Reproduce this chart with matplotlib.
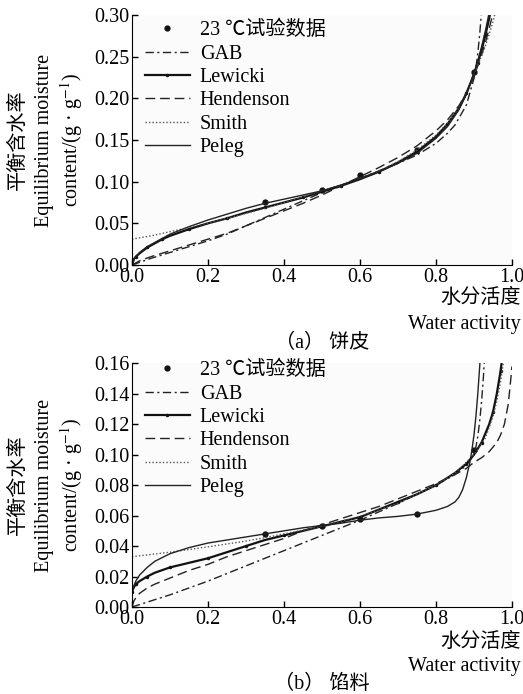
import matplotlib
matplotlib.use("Agg")
import matplotlib.pyplot as plt

plt.rcParams['font.family'] = ['Liberation Serif', 'Noto Sans CJK SC']
plt.rcParams['mathtext.fontset'] = 'stix'
plt.rcParams['axes.unicode_minus'] = False

# ---------------- (a) crust ----------------
a_exp_aw = [0.35, 0.50, 0.60, 0.75, 0.90]
a_exp_m = [0.075, 0.090, 0.108, 0.138, 0.232]

a_gab_aw = [0, 0.05, 0.1, 0.15, 0.2, 0.25, 0.3, 0.35, 0.4, 0.45, 0.5, 0.55, 0.6, 0.65, 0.7, 0.75,
            0.8, 0.83, 0.85, 0.88, 0.9, 0.905, 0.91, 0.915, 0.92]
a_gab_m = [0, 0.008, 0.015, 0.022, 0.029, 0.037, 0.047, 0.057, 0.067, 0.077, 0.087, 0.095, 0.104,
           0.113, 0.122, 0.132, 0.146, 0.158, 0.168, 0.192, 0.224, 0.237, 0.254, 0.277, 0.305]

a_lew_aw = [0, 0.005, 0.01, 0.02, 0.04, 0.06, 0.08, 0.1, 0.15, 0.2, 0.25, 0.3, 0.35, 0.4, 0.45, 0.5,
            0.55, 0.6, 0.65, 0.7, 0.75, 0.8, 0.83, 0.86, 0.88, 0.9, 0.91, 0.92, 0.93, 0.94, 0.95]
a_lew_m = [0, 0.007, 0.010, 0.014, 0.021, 0.026, 0.031, 0.035, 0.043, 0.050, 0.056, 0.063, 0.069,
           0.075, 0.081, 0.088, 0.095, 0.103, 0.112, 0.123, 0.136, 0.154, 0.169, 0.188, 0.206,
           0.229, 0.243, 0.258, 0.276, 0.296, 0.320]

a_hen_aw = [0, 0.02, 0.05, 0.1, 0.15, 0.2, 0.25, 0.3, 0.35, 0.4, 0.45, 0.5, 0.55, 0.6, 0.65, 0.7,
            0.75, 0.8, 0.83, 0.86, 0.88, 0.9, 0.91, 0.92, 0.93, 0.94, 0.95, 0.96]
a_hen_m = [0, 0.005, 0.010, 0.017, 0.024, 0.031, 0.038, 0.047, 0.056, 0.065, 0.074, 0.084, 0.095,
           0.106, 0.117, 0.129, 0.143, 0.161, 0.174, 0.191, 0.206, 0.227, 0.239, 0.252, 0.267,
           0.284, 0.302, 0.322]

a_smi_aw = [0, 0.05, 0.1, 0.15, 0.2, 0.25, 0.3, 0.35, 0.4, 0.45, 0.5, 0.55, 0.6, 0.65, 0.7, 0.75,
            0.8, 0.83, 0.86, 0.88, 0.9, 0.91, 0.92, 0.93, 0.94, 0.95, 0.96]
a_smi_m = [0.031, 0.035, 0.040, 0.045, 0.050, 0.056, 0.062, 0.068, 0.075, 0.082, 0.089, 0.096,
           0.104, 0.113, 0.124, 0.138, 0.156, 0.170, 0.188, 0.205, 0.229, 0.240, 0.251, 0.263,
           0.277, 0.292, 0.311]

a_pel_aw = [0, 0.005, 0.01, 0.02, 0.04, 0.06, 0.08, 0.1, 0.15, 0.2, 0.25, 0.3, 0.35, 0.4, 0.45, 0.5,
            0.55, 0.6, 0.65, 0.7, 0.75, 0.8, 0.83, 0.86, 0.88, 0.9, 0.91, 0.92, 0.93, 0.94]
a_pel_m = [0, 0.007, 0.010, 0.015, 0.022, 0.027, 0.032, 0.037, 0.046, 0.054, 0.061, 0.068, 0.074,
           0.079, 0.084, 0.089, 0.096, 0.104, 0.112, 0.122, 0.134, 0.152, 0.166, 0.186, 0.205,
           0.230, 0.245, 0.262, 0.281, 0.303]

# ---------------- (b) filling ----------------
b_exp_aw = [0.35, 0.50, 0.60, 0.75, 0.90]
b_exp_m = [0.048, 0.053, 0.058, 0.061, 0.103]

b_gab_aw = [0, 0.1, 0.2, 0.3, 0.35, 0.4, 0.5, 0.6, 0.7, 0.75, 0.8, 0.85, 0.88, 0.9, 0.905, 0.91,
            0.915, 0.92, 0.925, 0.928]
b_gab_m = [0, 0.008, 0.017, 0.027, 0.032, 0.037, 0.047, 0.057, 0.068, 0.074, 0.080, 0.087, 0.093,
           0.100, 0.105, 0.112, 0.122, 0.135, 0.152, 0.165]

b_lew_aw = [0, 0.005, 0.01, 0.02, 0.04, 0.06, 0.1, 0.15, 0.2, 0.25, 0.3, 0.35, 0.4, 0.45, 0.5, 0.55,
            0.6, 0.65, 0.7, 0.75, 0.8, 0.85, 0.88, 0.9, 0.92, 0.94, 0.95, 0.96, 0.97, 0.975]
b_lew_m = [0.010, 0.013, 0.015, 0.017, 0.020, 0.0225, 0.026, 0.029, 0.032, 0.036, 0.040, 0.044,
           0.047, 0.050, 0.053, 0.056, 0.059, 0.064, 0.069, 0.074, 0.080, 0.088, 0.094, 0.100,
           0.108, 0.120, 0.128, 0.140, 0.155, 0.165]

b_hen_aw = [0, 0.005, 0.01, 0.02, 0.04, 0.06, 0.1, 0.15, 0.2, 0.25, 0.3, 0.35, 0.4, 0.45, 0.5, 0.55,
            0.6, 0.65, 0.7, 0.75, 0.8, 0.85, 0.88, 0.9, 0.92, 0.94, 0.96, 0.97, 0.98, 0.99, 0.995, 1.0]
b_hen_m = [0, 0.004, 0.006, 0.009, 0.0125, 0.015, 0.019, 0.024, 0.028, 0.033, 0.037, 0.041, 0.045,
           0.050, 0.054, 0.058, 0.062, 0.066, 0.071, 0.076, 0.081, 0.087, 0.091, 0.095, 0.098,
           0.102, 0.108, 0.113, 0.120, 0.133, 0.145, 0.158]

b_smi_aw = [0, 0.1, 0.2, 0.3, 0.35, 0.4, 0.5, 0.6, 0.7, 0.8, 0.85, 0.9, 0.93, 0.95, 0.96, 0.97, 0.98]
b_smi_m = [0.033, 0.036, 0.0395, 0.0433, 0.0455, 0.048, 0.053, 0.0596, 0.068, 0.080, 0.088, 0.100,
           0.111, 0.125, 0.135, 0.148, 0.165]

b_pel_aw = [0, 0.005, 0.01, 0.02, 0.04, 0.06, 0.1, 0.15, 0.2, 0.25, 0.3, 0.35, 0.4, 0.45, 0.5, 0.55,
            0.6, 0.65, 0.7, 0.75, 0.8, 0.83, 0.85, 0.86, 0.87, 0.88, 0.89, 0.895, 0.9, 0.905, 0.91,
            0.915, 0.918]
b_pel_m = [0.010, 0.014, 0.017, 0.021, 0.026, 0.030, 0.035, 0.039, 0.042, 0.044, 0.046, 0.048,
           0.050, 0.052, 0.0535, 0.055, 0.057, 0.0585, 0.0595, 0.061, 0.0635, 0.066, 0.069, 0.072,
           0.077, 0.085, 0.096, 0.104, 0.113, 0.125, 0.140, 0.158, 0.170]

labels = ['23 ℃试验数据', 'GAB', 'Lewicki', 'Hendenson', 'Smith', 'Peleg']
FS = 14.5

fig = plt.figure(figsize=(5.23, 6.94), dpi=100)
ax_a = fig.add_axes([132 / 523, 1 - 265 / 694, 380 / 523, 250 / 694])
ax_b = fig.add_axes([132 / 523, 1 - 607 / 694, 380 / 523, 243.7 / 694])


def draw(ax, exp, gab, lew, hen, smi, pel, ymax, yticks, leg_y):
    ax.plot(exp[0], exp[1], linestyle='none', marker='o', ms=3.5, color='#111', label=labels[0])
    ax.plot(gab[0], gab[1], color='#222', lw=1.0, dashes=(6, 2.5, 1.5, 2.5), label=labels[1])
    ax.plot(lew[0], lew[1], color='#111', lw=1.6, marker='.', ms=3, markevery=2, label=labels[2])
    ax.plot(hen[0], hen[1], color='#222', lw=1.0, dashes=(7, 3.5), label=labels[3])
    ax.plot(smi[0], smi[1], color='#555', lw=1.0, dashes=(1, 1.5), label=labels[4])
    ax.plot(pel[0], pel[1], color='#222', lw=1.0, label=labels[5])
    ax.set_xlim(0, 1.0)
    ax.set_ylim(0, ymax)
    ax.set_xticks([0, 0.2, 0.4, 0.6, 0.8, 1.0])
    ax.set_xticklabels(['0.0', '0.2', '0.4', '0.6', '0.8', '1.0'], fontfamily='Liberation Serif')
    ax.set_yticks(yticks)
    ax.set_yticklabels(['{:.2f}'.format(v) for v in yticks], fontfamily='Liberation Serif')
    ax.tick_params(direction='in', length=4, width=1, labelsize=FS, pad=2)
    ax.spines['top'].set_visible(False)
    ax.spines['right'].set_visible(False)
    ax.set_facecolor('#fbfbfb')
    ax.legend(loc='upper left', bbox_to_anchor=(0.035, leg_y), frameon=False,
              fontsize=FS, handlelength=2.2, handletextpad=0.5, labelspacing=0.21,
              borderaxespad=0, borderpad=0)


draw(ax_a, (a_exp_aw, a_exp_m), (a_gab_aw, a_gab_m), (a_lew_aw, a_lew_m), (a_hen_aw, a_hen_m),
     (a_smi_aw, a_smi_m), (a_pel_aw, a_pel_m), 0.30,
     [0, 0.05, 0.10, 0.15, 0.20, 0.25, 0.30], 0.976)
draw(ax_b, (b_exp_aw, b_exp_m), (b_gab_aw, b_gab_m), (b_lew_aw, b_lew_m), (b_hen_aw, b_hen_m),
     (b_smi_aw, b_smi_m), (b_pel_aw, b_pel_m), 0.16,
     [0, 0.02, 0.04, 0.06, 0.08, 0.10, 0.12, 0.14, 0.16], 1.01)

ylab = ['平衡含水率', 'Equilibrium moisture', r'content/(g · g$^{-1}$)']
for cy in (140, 485):
    for xpx, t in zip((18, 45, 72), ylab):
        fig.text(xpx / 523, 1 - cy / 694, t, rotation=90, ha='center', va='center', fontsize=FS)

for y1, y2, cap, ycap in ((298, 325, '（a） 饼皮', 343), (642, 667, '（b） 馅料', 684)):
    fig.text(521 / 523, 1 - y1 / 694, '水分活度', ha='right', va='center', fontsize=FS)
    fig.text(521 / 523, 1 - y2 / 694, 'Water activity', ha='right', va='center', fontsize=FS)
    fig.text(322 / 523, 1 - ycap / 694, cap, ha='center', va='center', fontsize=FS)

fig.savefig('out.png', dpi=100)
